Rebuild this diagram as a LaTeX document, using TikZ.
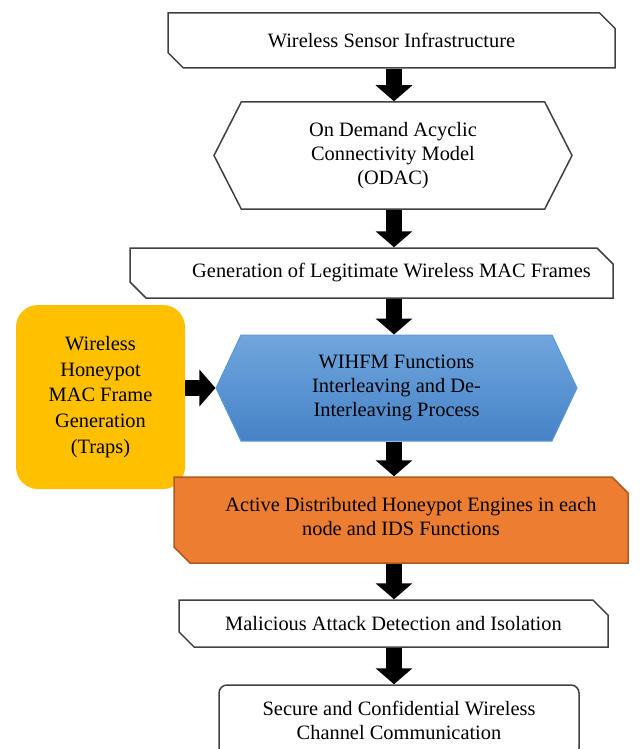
\documentclass[tikz,border=0pt]{standalone}
\usepackage{fontspec}
\setmainfont{Liberation Serif}
\usetikzlibrary{shapes.misc,shapes.symbols,arrows.meta}

\definecolor{trapyellow}{RGB}{255,192,0}
\definecolor{idsorange}{RGB}{237,125,49}
\definecolor{idsborder}{RGB}{174,90,33}
\definecolor{wihline}{RGB}{91,155,213}
\definecolor{wihtop}{RGB}{112,166,222}
\definecolor{wihbot}{RGB}{70,130,198}

\begin{document}
\begin{tikzpicture}[x=0.5pt, y=-0.5pt, font=\fontsize{10.2}{12.2}\selectfont,
	flow/.style={chamfered rectangle, chamfered rectangle corners={north east,south west}, chamfered rectangle xsep=4pt, chamfered rectangle ysep=4pt, draw=black!75, line width=0.75pt, align=center, inner sep=0pt},
	hexa/.style={signal, signal to=east and west, align=center, inner sep=0pt},
	bigarrow/.style={line width=8pt, -{Triangle[width=18pt,length=8pt]}}]
	\useasboundingbox (0,0) rectangle (641,749);
	
	\node[flow, minimum width=223.5pt, minimum height=27.5pt] (infra) at (391.5,40.5) {Wireless Sensor Infrastructure};
	\node[hexa, draw=black!75, line width=0.75pt, signal pointer angle=126, minimum width=179pt, minimum height=53.5pt] (odac) at (393,155.5) {On Demand Acyclic\\Connectivity Model\\(ODAC)};
	\node[flow, minimum width=241.5pt, minimum height=25pt] (gen) at (371.5,273) {\hspace*{20pt}Generation of Legitimate Wireless MAC Frames};
	\node[hexa, draw=wihline, line width=0.5pt, top color=wihtop, bottom color=wihbot, signal pointer angle=129.5, minimum width=180.5pt, minimum height=53pt] (wihfm) at (396.5,388) {WIHFM Functions\\Interleaving and De-\\Interleaving Process};
	\node[fill=trapyellow, rounded corners=11pt, minimum width=84.5pt, minimum height=92pt, align=center, inner sep=0pt, font=\fontsize{10.2}{12.8}\selectfont] (traps) at (100.5,397) {Wireless\\Honeypot\\MAC Frame\\Generation\\(Traps)};
	\node[flow, fill=idsorange, draw=idsborder, minimum width=227pt, minimum height=43pt] (ids) at (401,520) {\hspace*{10pt}Active Distributed Honeypot Engines in each\\node and IDS Functions\vphantom{$\big|$}};
	\node[flow, minimum width=214.5pt, minimum height=23.5pt] (detect) at (393.5,623.5) {Malicious Attack Detection and Isolation};
	\node[draw=black!75, line width=0.75pt, rounded corners=4pt, minimum width=180pt, minimum height=35.5pt, align=center, inner sep=0pt] (secure) at (399,720.5) {Secure and Confidential Wireless\\Channel Communication};
	
	\coordinate (ax) at (394,0);
	\draw[bigarrow] (infra.south -| ax) -- (odac.north -| ax);
	\draw[bigarrow] (odac.south -| ax) -- (gen.north -| ax);
	\draw[bigarrow] (gen.south -| ax) -- (wihfm.north -| ax);
	\draw[bigarrow] (wihfm.south -| ax) -- (ids.north -| ax);
	\draw[bigarrow] (ids.south -| ax) -- (detect.north -| ax);
	\draw[bigarrow] (detect.south -| ax) -- (secure.north -| ax);
	\draw[bigarrow] (traps.east |- wihfm.west) -- (wihfm.west);
\end{tikzpicture}
\end{document}
